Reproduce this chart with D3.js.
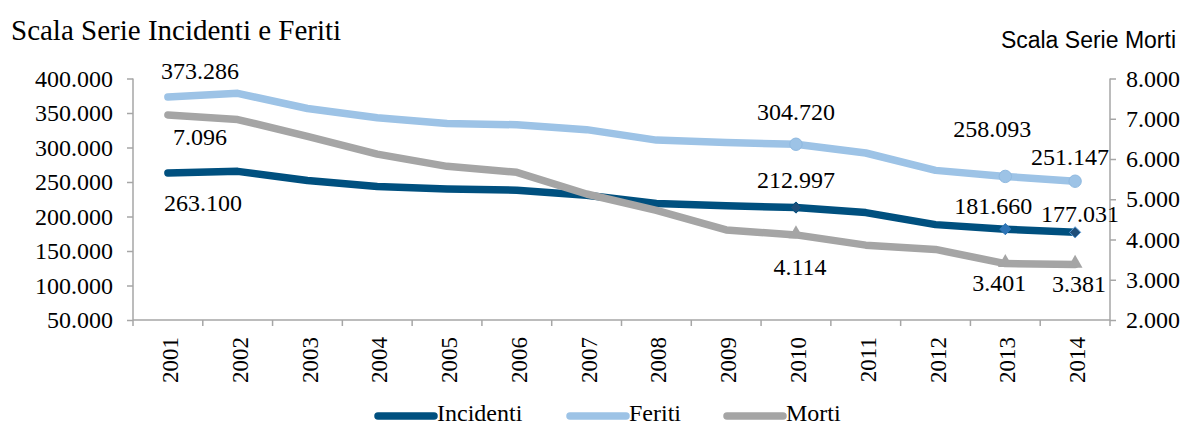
<!DOCTYPE html>
<html>
<head>
<meta charset="utf-8">
<script src="https://cdn.jsdelivr.net/npm/d3@7"></script>
</head>
<body style="margin:0;background:#fff">
<script>
var width = 1188,
    height = 427;

// data
var years = ["2001","2002","2003","2004","2005","2006","2007","2008","2009","2010","2011","2012","2013","2014"];
var incidenti = [263100, 265402, 252271, 243490, 240011, 238124, 230871, 218963, 215405, 212997, 205638, 188228, 181660, 177031];
var feriti = [373286, 378492, 356475, 343179, 334858, 332955, 325850, 310745, 307258, 304720, 292019, 266864, 258093, 251147];
var morti = [7096, 6980, 6563, 6122, 5818, 5669, 5131, 4725, 4237, 4114, 3860, 3753, 3401, 3381];
var leftTicks = [50000, 100000, 150000, 200000, 250000, 300000, 350000, 400000];
var rightTicks = [2000, 3000, 4000, 5000, 6000, 7000, 8000];
var labelled = [0, 9, 12, 13];   // years that carry a value label
var marked = [9, 12, 13];        // years that carry a marker

var fmt = function(v){ return d3.format(",")(v).replace(/,/g, "."); };

var serif = "'Liberation Serif', 'Times New Roman', serif",
    sans = "'Liberation Sans', Arial, sans-serif";

var colInc = "#00507f",
    colFer = "#9dc3e6",
    colMor = "#a5a5a5",
    axisCol = "#a6a6a6";

var svg = d3.select("body").append("svg")
    .attr("width", width)
    .attr("height", height);

var x = d3.scaleBand().domain(years).range([133, 1110]);
var yL = d3.scaleLinear().domain([50000, 400000]).range([320, 78.5]);
var yR = d3.scaleLinear().domain([2000, 8000]).range([320, 78.5]);
var cx = function(i){ return x(years[i]) + x.bandwidth() / 2; };

// axes
var left = svg.append("g").attr("transform", "translate(133,0)")
  .call(d3.axisLeft(yL).tickValues(leftTicks).tickSize(6).tickPadding(14).tickFormat(fmt));
var right = svg.append("g").attr("transform", "translate(1110,0)")
  .call(d3.axisRight(yR).tickValues(rightTicks).tickSize(6).tickPadding(10).tickFormat(fmt));
var bottom = svg.append("g").attr("transform", "translate(0,320)")
  .call(d3.axisBottom(x).tickSize(0).tickFormat(""));

[left, right, bottom].forEach(function(g){
  g.selectAll("path, line").attr("stroke", axisCol).attr("stroke-width", 1.5);
  g.selectAll("text")
    .style("font-family", serif).style("font-size", "24px").attr("fill", "#000");
});
left.select(".domain").attr("d", "M0,320V78.5");
right.select(".domain").attr("d", "M0,320V78.5");
bottom.select(".domain").attr("d", "M133,0H1110");

// category boundary ticks
bottom.selectAll("line.bound")
  .data(d3.range(years.length + 1))
  .enter().append("line")
    .attr("x1", function(i){ return 133 + i * x.bandwidth(); })
    .attr("x2", function(i){ return 133 + i * x.bandwidth(); })
    .attr("y1", 0).attr("y2", 6)
    .attr("stroke", axisCol).attr("stroke-width", 1.5);

// year labels, rotated
svg.selectAll("text.year")
  .data(years)
  .enter().append("text")
    .attr("class", "year")
    .attr("transform", function(d){ return "translate(" + (x(d) + x.bandwidth() / 2 + 2) + ",337) rotate(-90)"; })
    .attr("text-anchor", "end")
    .attr("dy", "0.35em")
    .style("font-family", serif).style("font-size", "23px")
    .text(function(d){ return d; });

// lines
var series = [
  { name: "Incidenti", values: incidenti, y: yL, color: colInc },
  { name: "Feriti", values: feriti, y: yL, color: colFer },
  { name: "Morti", values: morti, y: yR, color: colMor }
];

// draw order: incidenti, morti on top, feriti
[series[0], series[2], series[1]].forEach(function(s){
  var line = d3.line()
    .x(function(d, i){ return cx(i); })
    .y(function(d){ return s.y(d); });
  svg.append("path")
    .datum(s.values)
    .attr("d", line)
    .attr("fill", "none")
    .attr("stroke", s.color)
    .attr("stroke-width", 7.5)
    .attr("stroke-linejoin", "round")
    .attr("stroke-linecap", "round");
});

// markers
svg.selectAll("circle.fer")
  .data(marked).enter().append("circle")
    .attr("cx", function(i){ return cx(i); })
    .attr("cy", function(i){ return yL(feriti[i]); })
    .attr("r", 6.2)
    .attr("fill", colFer)
    .attr("stroke", "#8fb9e0").attr("stroke-width", 1);

var diamondFill = ["#1f4e79", "#2e75b6", "#1f4e79"],
    diamondStroke = ["#00507f", "#2e75b6", "#5b9bd5"];
svg.selectAll("path.inc")
  .data(marked).enter().append("path")
    .attr("d", d3.symbol().type(d3.symbolDiamond2).size(80))
    .attr("transform", function(i){ return "translate(" + cx(i) + "," + yL(incidenti[i]) + ")"; })
    .attr("fill", function(d, k){ return diamondFill[k]; })
    .attr("stroke", function(d, k){ return diamondStroke[k]; })
    .attr("stroke-width", 1);

svg.selectAll("path.mor")
  .data(marked).enter().append("path")
    .attr("d", d3.symbol().type(d3.symbolTriangle).size(95))
    .attr("transform", function(i){ return "translate(" + cx(i) + "," + (yR(morti[i]) - 1) + ")"; })
    .attr("fill", colMor);

// value labels
var labelPlace = {
  Feriti:    [[32, -18], [0, -24], [-13, -39], [-5, -16]],
  Incidenti: [[35, 38], [0, -20], [-12, -15], [5, -10]],
  Morti:     [[32, 30], [4, 40], [-6, 27], [4, 28]]
};
series.forEach(function(s){
  svg.selectAll(null)
    .data(labelled).enter().append("text")
      .attr("x", function(i, k){ return cx(i) + labelPlace[s.name][k][0]; })
      .attr("y", function(i, k){ return s.y(s.values[i]) + labelPlace[s.name][k][1]; })
      .attr("text-anchor", "middle")
      .style("font-family", serif).style("font-size", "24px")
      .text(function(i){ return fmt(s.values[i]); });
});

// axis titles
svg.append("text")
  .attr("x", 11).attr("y", 40)
  .style("font-family", serif).style("font-size", "29px")
  .text("Scala Serie Incidenti e Feriti");
svg.append("text")
  .attr("x", 1176).attr("y", 48)
  .attr("text-anchor", "end")
  .style("font-family", sans).style("font-size", "23px")
  .text("Scala Serie Morti");

// legend
var legendX = [378, 570, 727];
var legend = svg.selectAll("g.legend")
  .data(series).enter().append("g")
    .attr("transform", function(d, i){ return "translate(" + legendX[i] + ",416)"; });
legend.append("line")
  .attr("x1", 0).attr("x2", 56)
  .attr("stroke", function(d){ return d.color; })
  .attr("stroke-width", 7.5)
  .attr("stroke-linecap", "round");
legend.append("text")
  .attr("x", 59).attr("y", 5)
  .style("font-family", serif).style("font-size", "24px")
  .text(function(d){ return d.name; });
</script>
</body>
</html>
